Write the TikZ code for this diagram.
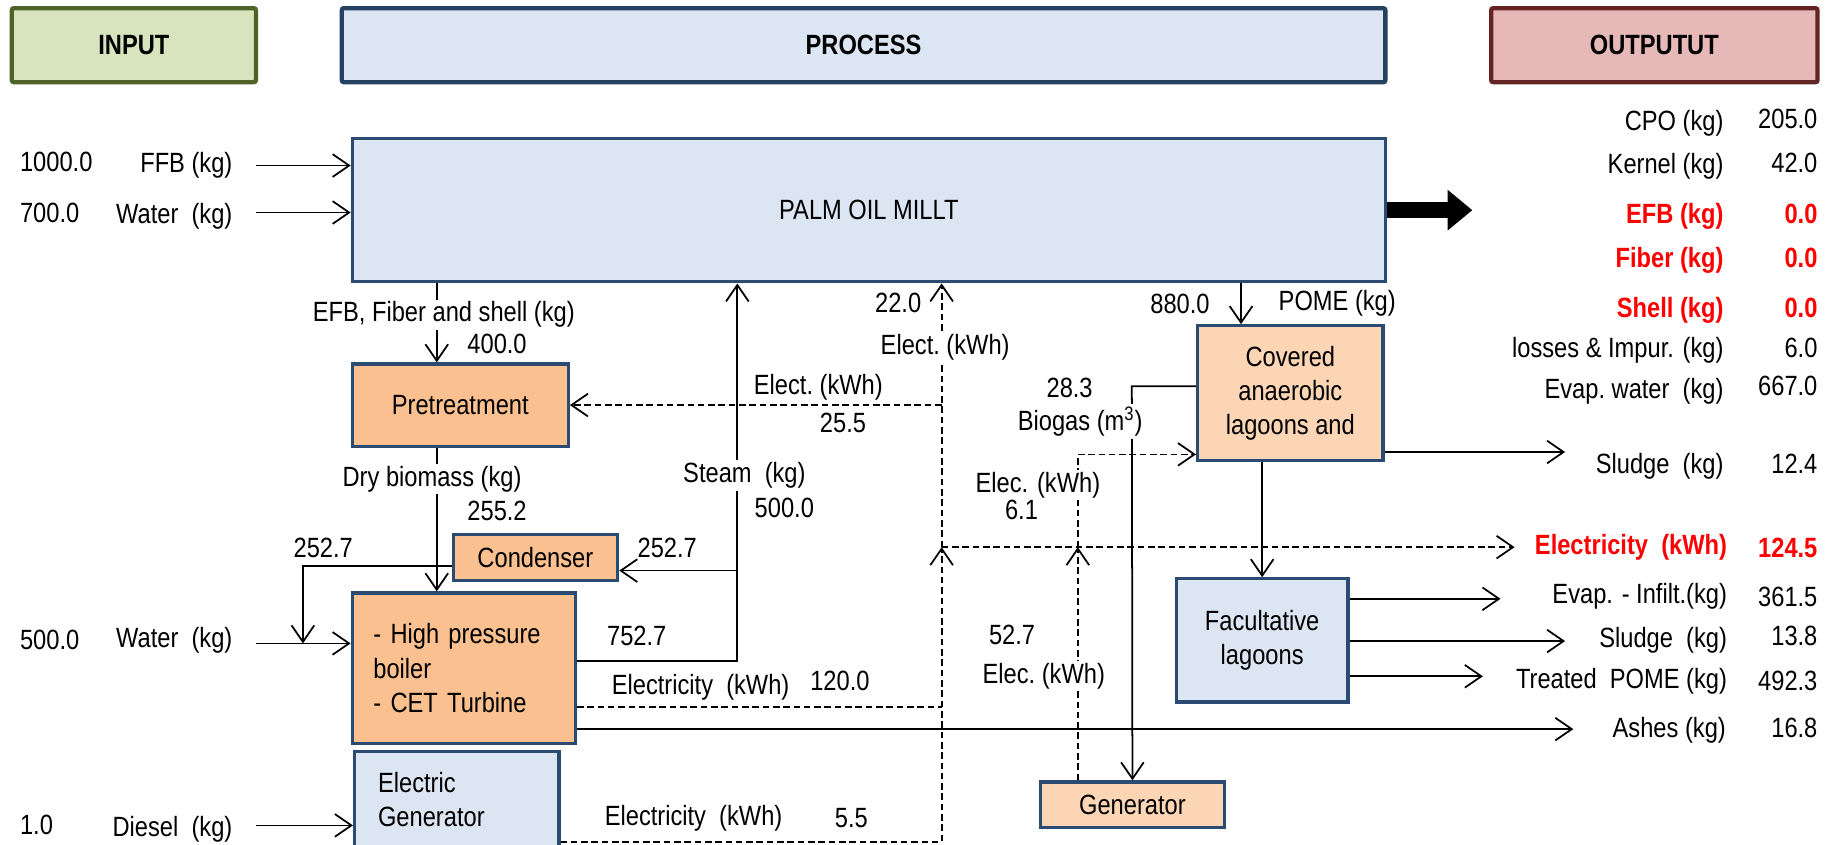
\documentclass[tikz,border=0pt]{standalone}
\usepackage{fontspec}
\setmainfont[FakeStretch=0.85]{Liberation Sans}
\usetikzlibrary{arrows.meta,positioning}

\newcommand{\basefont}{\fontsize{13.5}{16.5}\selectfont}

\definecolor{infill}{HTML}{D7E4BD}
\definecolor{inline}{HTML}{4F6228}
\definecolor{procfill}{HTML}{DCE6F2}
\definecolor{procline}{HTML}{254061}
\definecolor{outfill}{HTML}{E6B9B8}
\definecolor{outline}{HTML}{632523}
\definecolor{unitline}{HTML}{2B4B72}
\definecolor{orangefill}{HTML}{FAC08F}
\definecolor{peachfill}{HTML}{FCD5B5}
\definecolor{hotred}{HTML}{FF0000}

\tikzset{
  hdr/.style={draw, line width=2.1pt, rounded corners=1pt, minimum height=1.26cm, font=\basefont\bfseries},
  unit/.style={draw=unitline, line width=1.6pt, align=center},
  flow/.style={line width=0.85pt, -{Straight Barb[length=8pt,width=11pt]}},
  eline/.style={line width=0.85pt, dash pattern=on 3.2pt off 1.8pt},
  eflow/.style={flow, dash pattern=on 3.2pt off 1.8pt},
  wlbl/.style={fill=white, inner sep=1pt},
  olbl/.style={anchor=east},
  hot/.style={anchor=east, text=hotred, font=\basefont\bfseries},
}

\begin{document}
\begin{tikzpicture}[x=0.02cm, y=-0.02cm, every node/.style={font=\basefont, inner sep=1pt}]
  \useasboundingbox (0,0) rectangle (1568,719);

  % Headers
  \node[hdr, fill=infill, draw=inline, minimum width=4.16cm] (inHdr) at (114,38.5) {INPUT};
  \node[hdr, fill=procfill, draw=procline, minimum width=17.78cm] (procHdr) at (735.5,38.5) {PROCESS};
  \node[hdr, fill=outfill, draw=outline, minimum width=5.56cm] (outHdr) at (1409,38.5) {OUTPUTUT};

  % Units
  \node[unit, fill=procfill, minimum width=17.6cm, minimum height=2.44cm] (mill) at (740,179) {PALM OIL MILLT};
  \node[unit, fill=orangefill, minimum width=3.68cm, minimum height=1.4cm] (pretreat) at (392,345) {Pretreatment};
  \node[unit, fill=orangefill, minimum width=2.8cm, minimum height=0.78cm] (condenser) at (456,475) {Condenser};
  \node[unit, fill=orangefill, minimum width=3.8cm, minimum height=2.56cm, text width=3.08cm, align=left] (boiler) at (395,569)
    {- High pressure\\boiler\\- CET Turbine};
  \node[unit, fill=procfill, minimum width=3.48cm, minimum height=1.64cm, text width=2.68cm, align=left] (elecGen) at (389,681)
    {Electric\\Generator};
  \node[unit, fill=peachfill, minimum width=3.14cm, minimum height=0.78cm] (generator) at (964.5,685.5) {Generator};
  \node[unit, fill=peachfill, minimum width=3.16cm, minimum height=2.3cm] (covered) at (1099,335)
    {Covered\\anaerobic\\lagoons and};
  \node[unit, fill=procfill, minimum width=2.92cm, minimum height=2.1cm] (facult) at (1075,545.5)
    {Facultative\\lagoons};

  % Junctions and free ends
  \coordinate (inFFB) at (218,141);
  \coordinate (inWat) at (218,181);
  \coordinate (inWat2) at (218,548);
  \coordinate (inDsl) at (218,703);
  \coordinate (bioX) at (372,0);
  \coordinate (stmJ) at (628,563);
  \coordinate (cndJ) at (628,486);
  \coordinate (retJ) at (258,482);
  \coordinate (boilE) at (802,602);
  \coordinate (genOut) at (802,717);
  \coordinate (busLow) at (802,466);
  \coordinate (busPre) at (802,345);
  \coordinate (elecEnd) at (1290,466);
  \coordinate (genE) at (918,466);
  \coordinate (covE) at (918,387);
  \coordinate (bgJ) at (964,329);
  \coordinate (pomeX) at (1057,0);
  \coordinate (sl1) at (1333,385);
  \coordinate (evEnd) at (1278,510);
  \coordinate (sl2) at (1333,546);
  \coordinate (trEnd) at (1263,576);
  \coordinate (ashEnd) at (1340,621);
  \coordinate (bigTip) at (1254,179);

  % Inputs
  \draw[flow] (inFFB) -- (inFFB -| mill.west);
  \draw[flow] (inWat) -- (inWat -| mill.west);
  \draw[flow] (inWat2) -- (inWat2 -| boiler.west);
  \draw[flow] (inDsl) -- (inDsl -| elecGen.west);

  % Solid flows
  \draw[flow] (mill.south -| bioX) -- (pretreat.north -| bioX);
  \draw[flow] (pretreat.south -| bioX) -- (boiler.north -| bioX);
  \draw[flow] (boiler.east |- stmJ) -- (stmJ) -- (stmJ |- mill.south);
  \draw[flow] (cndJ) -- (cndJ -| condenser.east);
  \draw[flow] (retJ -| condenser.west) -- (retJ) -- (retJ |- inWat2);
  \draw[flow] (mill.south -| pomeX) -- (covered.north -| pomeX);
  \draw[flow] (covered.south -| facult.north) -- (facult.north);
  \draw[flow] (bgJ -| covered.west) -- (bgJ) -- (generator.north);
  \draw[flow] (sl1 -| covered.east) -- (sl1);
  \draw[flow] (evEnd -| facult.east) -- (evEnd);
  \draw[flow] (sl2 -| facult.east) -- (sl2);
  \draw[flow] (trEnd -| facult.east) -- (trEnd);
  \draw[flow] (ashEnd -| boiler.east) -- (ashEnd);
  \draw[line width=8pt, -{Triangle[length=12pt,width=19pt]}] (mill.east) -- (bigTip);

  % Electricity
  \draw[eline] (boilE -| boiler.east) -- (boilE);
  \draw[eflow] (genOut -| elecGen.east) -- (genOut) -- (busLow);
  \draw[eflow] (busLow) -- (busLow |- mill.south);
  \draw[eflow] (busPre) -- (pretreat.east);
  \draw[eflow] (busLow) -- (elecEnd);
  \draw[eflow] (generator.north -| genE) -- (genE);
  \draw[eflow] (genE) -- (covE) -- (covE -| covered.west);

  % Input labels
  \node[anchor=west] (v1000) at (15,138) {1000.0};
  \node[anchor=east] (ffbLbl) at (200,141) {FFB (kg)};
  \node[anchor=west] (v700) at (15,181) {700.0};
  \node[anchor=east] (watLbl) at (200,184) {Water\ \ (kg)};
  \node[anchor=west] (v500) at (15,545) {500.0};
  \node[anchor=east] (wat2Lbl) at (200,545) {Water\ \ (kg)};
  \node[anchor=west] (v1) at (15,703) {1.0};
  \node[anchor=east] (dslLbl) at (200,706) {Diesel\ \ (kg)};

  % Process labels
  \node[wlbl] (efbLbl) at (378,268) {EFB, Fiber and shell (kg)};
  \node[anchor=west] (v400) at (396,293) {400.0};
  \node[wlbl] (dryLbl) at (368,408) {Dry biomass (kg)};
  \node[anchor=west] (v2552) at (396,435) {255.2};
  \node[anchor=west] (v2527a) at (248,467) {252.7};
  \node[anchor=west] (v2527b) at (541,467) {252.7};
  \node[anchor=west] (v7527) at (515,542) {752.7};
  \node[wlbl] (steamLbl) at (634,405) {Steam\ \ (kg)};
  \node (v500s) at (668,433) {500.0};
  \node (electA) at (697,330) {Elect.\ (kWh)};
  \node (v255) at (718,360) {25.5};
  \node (v22) at (765,258) {22.0};
  \node[wlbl] (electB) at (805,296) {Elect.\ (kWh)};
  \node[anchor=west] (elecBoil) at (519,585) {Electricity\ \ (kWh)};
  \node[anchor=west] (v120) at (688,580) {120.0};
  \node[anchor=west] (elecDsl) at (513,697) {Electricity\ \ (kWh)};
  \node[anchor=west] (v55) at (709,697) {5.5};
  \node (v880) at (1005,259) {880.0};
  \node[anchor=west] (pomeLbl) at (1087,258) {POME (kg)};
  \node (v283) at (911,330) {28.3};
  \node[wlbl] (biogasLbl) at (920,359) {Biogas (m\textsuperscript{3})};
  \node[wlbl] (elecC) at (884,413) {Elec. (kWh)};
  \node[wlbl] (v61) at (870,434) {6.1};
  \node (v527) at (862,541) {52.7};
  \node[wlbl] (elecD) at (889,576) {Elec.\ (kWh)};

  % Output labels
  \node[olbl] (cpoLbl) at (1470,105) {CPO (kg)};
  \node[olbl] (cpoVal) at (1550,101) {205.0};
  \node[olbl] (kerLbl) at (1470,142) {Kernel (kg)};
  \node[olbl] (kerVal) at (1550,139) {42.0};
  \node[hot] (efbOut) at (1470,184) {EFB (kg)};
  \node[hot] (efbVal) at (1550,182) {0.0};
  \node[hot] (fibOut) at (1470,222) {Fiber (kg)};
  \node[hot] (fibVal) at (1550,220) {0.0};
  \node[hot] (shlOut) at (1470,264) {Shell (kg)};
  \node[hot] (shlVal) at (1550,262) {0.0};
  \node[olbl] (lossLbl) at (1470,298) {losses \& Impur. (kg)};
  \node[olbl] (lossVal) at (1550,296) {6.0};
  \node[olbl] (evwLbl) at (1470,333) {Evap.\ water\ \ (kg)};
  \node[olbl] (evwVal) at (1550,329) {667.0};
  \node[olbl] (sl1Lbl) at (1470,397) {Sludge\ \ (kg)};
  \node[olbl] (sl1Val) at (1550,395) {12.4};
  \node[hot] (elecOut) at (1473,466) {Electricity\ \ (kWh)};
  \node[hot] (elecVal) at (1550,467) {124.5};
  \node[olbl] (evLbl) at (1473,508) {Evap. - Infilt.(kg)};
  \node[olbl] (evVal) at (1550,508) {361.5};
  \node[olbl] (sl2Lbl) at (1473,545) {Sludge\ \ (kg)};
  \node[olbl] (sl2Val) at (1550,542) {13.8};
  \node[olbl] (trLbl) at (1473,580) {Treated\ \ POME (kg)};
  \node[olbl] (trVal) at (1550,580) {492.3};
  \node[olbl] (ashLbl) at (1472,622) {Ashes (kg)};
  \node[olbl] (ashVal) at (1550,620) {16.8};
\end{tikzpicture}
\end{document}
